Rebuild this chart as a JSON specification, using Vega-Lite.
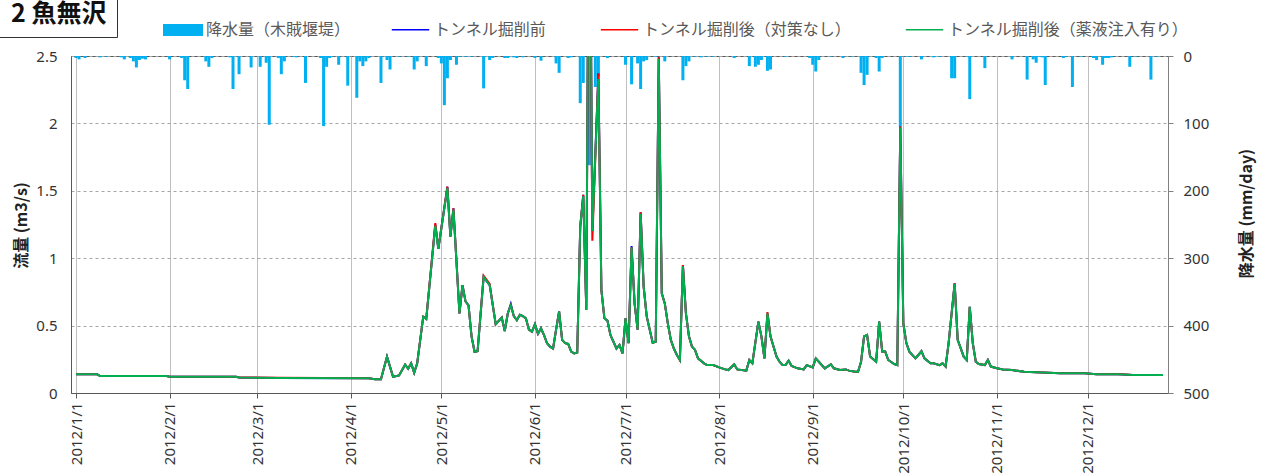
{
  "$schema": "https://vega.github.io/schema/vega-lite/v6.json",
  "width": 1097,
  "height": 337,
  "autosize": {"type": "none"},
  "padding": {"left": 71, "top": 56, "right": 95, "bottom": 82},
  "config": {
    "view": {"stroke": "#595959", "strokeWidth": 1},
    "font": "Noto Sans CJK JP",
    "axis": {"labelFont": "Noto Sans", "labelFontSize": 15, "labelColor": "#333333", "titleFont": "Noto Sans CJK JP", "titleColor": "#222222"},
    "legend": {"labelFont": "Noto Sans CJK JP", "labelFontSize": 16, "labelColor": "#595959", "padding": 0, "labelLimit": 500}
  },
  "datasets": {
    "rain": [
      {"date": "2012-01-01", "mm": 3}, {"date": "2012-01-02", "mm": 5}, {"date": "2012-01-04", "mm": 3},
      {"date": "2012-01-09", "mm": 2}, {"date": "2012-01-11", "mm": 1}, {"date": "2012-01-16", "mm": 2},
      {"date": "2012-01-17", "mm": 5}, {"date": "2012-01-19", "mm": 3}, {"date": "2012-01-20", "mm": 8},
      {"date": "2012-01-21", "mm": 17}, {"date": "2012-01-22", "mm": 6}, {"date": "2012-01-23", "mm": 4},
      {"date": "2012-01-24", "mm": 5}, {"date": "2012-02-01", "mm": 5}, {"date": "2012-02-05", "mm": 3},
      {"date": "2012-02-06", "mm": 36}, {"date": "2012-02-07", "mm": 49}, {"date": "2012-02-13", "mm": 8},
      {"date": "2012-02-14", "mm": 16}, {"date": "2012-02-15", "mm": 3}, {"date": "2012-02-21", "mm": 2},
      {"date": "2012-02-22", "mm": 49}, {"date": "2012-02-24", "mm": 27}, {"date": "2012-02-28", "mm": 17},
      {"date": "2012-03-02", "mm": 16}, {"date": "2012-03-04", "mm": 10}, {"date": "2012-03-05", "mm": 102},
      {"date": "2012-03-08", "mm": 3}, {"date": "2012-03-09", "mm": 27}, {"date": "2012-03-10", "mm": 8},
      {"date": "2012-03-13", "mm": 1}, {"date": "2012-03-14", "mm": 2}, {"date": "2012-03-17", "mm": 40},
      {"date": "2012-03-22", "mm": 3}, {"date": "2012-03-23", "mm": 104}, {"date": "2012-03-24", "mm": 16},
      {"date": "2012-03-25", "mm": 3}, {"date": "2012-03-26", "mm": 1}, {"date": "2012-03-28", "mm": 13},
      {"date": "2012-03-31", "mm": 44}, {"date": "2012-04-03", "mm": 62}, {"date": "2012-04-04", "mm": 8},
      {"date": "2012-04-05", "mm": 15}, {"date": "2012-04-06", "mm": 8}, {"date": "2012-04-07", "mm": 3},
      {"date": "2012-04-11", "mm": 40}, {"date": "2012-04-13", "mm": 6}, {"date": "2012-04-14", "mm": 20},
      {"date": "2012-04-17", "mm": 1}, {"date": "2012-04-20", "mm": 1}, {"date": "2012-04-22", "mm": 20},
      {"date": "2012-04-23", "mm": 8}, {"date": "2012-04-26", "mm": 15}, {"date": "2012-04-30", "mm": 3},
      {"date": "2012-05-01", "mm": 11}, {"date": "2012-05-02", "mm": 73}, {"date": "2012-05-03", "mm": 33},
      {"date": "2012-05-04", "mm": 6}, {"date": "2012-05-06", "mm": 13}, {"date": "2012-05-07", "mm": 1},
      {"date": "2012-05-09", "mm": 1}, {"date": "2012-05-11", "mm": 1}, {"date": "2012-05-15", "mm": 48},
      {"date": "2012-05-17", "mm": 6}, {"date": "2012-05-18", "mm": 3}, {"date": "2012-05-22", "mm": 3},
      {"date": "2012-05-23", "mm": 3}, {"date": "2012-05-25", "mm": 2}, {"date": "2012-05-26", "mm": 3},
      {"date": "2012-05-28", "mm": 2}, {"date": "2012-06-01", "mm": 3}, {"date": "2012-06-03", "mm": 7},
      {"date": "2012-06-08", "mm": 11}, {"date": "2012-06-09", "mm": 25}, {"date": "2012-06-12", "mm": 3},
      {"date": "2012-06-13", "mm": 2}, {"date": "2012-06-16", "mm": 70}, {"date": "2012-06-17", "mm": 40},
      {"date": "2012-06-19", "mm": 162}, {"date": "2012-06-21", "mm": 46}, {"date": "2012-06-22", "mm": 30},
      {"date": "2012-06-25", "mm": 3}, {"date": "2012-07-01", "mm": 13}, {"date": "2012-07-03", "mm": 42},
      {"date": "2012-07-05", "mm": 11}, {"date": "2012-07-06", "mm": 49}, {"date": "2012-07-07", "mm": 8},
      {"date": "2012-07-08", "mm": 6}, {"date": "2012-07-11", "mm": 1}, {"date": "2012-07-14", "mm": 8},
      {"date": "2012-07-20", "mm": 36}, {"date": "2012-07-21", "mm": 15}, {"date": "2012-07-22", "mm": 8},
      {"date": "2012-07-24", "mm": 1}, {"date": "2012-07-26", "mm": 2}, {"date": "2012-07-28", "mm": 1},
      {"date": "2012-07-30", "mm": 1}, {"date": "2012-08-06", "mm": 3}, {"date": "2012-08-11", "mm": 15},
      {"date": "2012-08-13", "mm": 16}, {"date": "2012-08-14", "mm": 13}, {"date": "2012-08-15", "mm": 6},
      {"date": "2012-08-17", "mm": 22}, {"date": "2012-08-18", "mm": 20}, {"date": "2012-08-23", "mm": 1},
      {"date": "2012-08-31", "mm": 3}, {"date": "2012-09-01", "mm": 13}, {"date": "2012-09-02", "mm": 23},
      {"date": "2012-09-03", "mm": 6}, {"date": "2012-09-07", "mm": 1}, {"date": "2012-09-11", "mm": 3},
      {"date": "2012-09-14", "mm": 1}, {"date": "2012-09-17", "mm": 25}, {"date": "2012-09-18", "mm": 43},
      {"date": "2012-09-19", "mm": 28}, {"date": "2012-09-22", "mm": 3}, {"date": "2012-09-23", "mm": 23},
      {"date": "2012-09-24", "mm": 3}, {"date": "2012-09-30", "mm": 105}, {"date": "2012-10-02", "mm": 1},
      {"date": "2012-10-03", "mm": 1}, {"date": "2012-10-07", "mm": 5}, {"date": "2012-10-11", "mm": 2},
      {"date": "2012-10-13", "mm": 1}, {"date": "2012-10-17", "mm": 33}, {"date": "2012-10-18", "mm": 33},
      {"date": "2012-10-22", "mm": 1}, {"date": "2012-10-23", "mm": 64}, {"date": "2012-10-28", "mm": 18},
      {"date": "2012-11-06", "mm": 5}, {"date": "2012-11-11", "mm": 35}, {"date": "2012-11-13", "mm": 5},
      {"date": "2012-11-14", "mm": 10}, {"date": "2012-11-15", "mm": 1}, {"date": "2012-11-16", "mm": 2},
      {"date": "2012-11-17", "mm": 43}, {"date": "2012-11-23", "mm": 3}, {"date": "2012-11-24", "mm": 1},
      {"date": "2012-11-26", "mm": 46}, {"date": "2012-11-29", "mm": 1}, {"date": "2012-12-03", "mm": 3},
      {"date": "2012-12-04", "mm": 6}, {"date": "2012-12-06", "mm": 13}, {"date": "2012-12-07", "mm": 3},
      {"date": "2012-12-08", "mm": 3}, {"date": "2012-12-09", "mm": 2}, {"date": "2012-12-15", "mm": 16},
      {"date": "2012-12-17", "mm": 1}, {"date": "2012-12-22", "mm": 35}, {"date": "2012-12-24", "mm": 1}
    ],
    "flow": [
      {"date": "2012-01-01", "b": 0.139, "r": 0.139, "g": 0.139},
      {"date": "2012-01-08", "b": 0.139, "r": 0.139, "g": 0.139},
      {"date": "2012-01-09", "b": 0.126, "r": 0.126, "g": 0.126},
      {"date": "2012-01-31", "b": 0.126, "r": 0.126, "g": 0.126},
      {"date": "2012-02-01", "b": 0.121, "r": 0.121, "g": 0.121},
      {"date": "2012-02-23", "b": 0.121, "r": 0.121, "g": 0.121},
      {"date": "2012-02-24", "b": 0.115, "r": 0.115, "g": 0.115},
      {"date": "2012-03-08", "b": 0.112, "r": 0.113, "g": 0.112},
      {"date": "2012-04-07", "b": 0.109, "r": 0.109, "g": 0.109},
      {"date": "2012-04-09", "b": 0.102, "r": 0.102, "g": 0.102},
      {"date": "2012-04-11", "b": 0.102, "r": 0.102, "g": 0.102},
      {"date": "2012-04-13", "b": 0.27, "r": 0.27, "g": 0.27},
      {"date": "2012-04-15", "b": 0.12, "r": 0.12, "g": 0.12},
      {"date": "2012-04-17", "b": 0.13, "r": 0.13, "g": 0.13},
      {"date": "2012-04-19", "b": 0.21, "r": 0.21, "g": 0.21},
      {"date": "2012-04-20", "b": 0.18, "r": 0.18, "g": 0.18},
      {"date": "2012-04-21", "b": 0.22, "r": 0.22, "g": 0.22},
      {"date": "2012-04-22", "b": 0.15, "r": 0.15, "g": 0.15},
      {"date": "2012-04-23", "b": 0.22, "r": 0.22, "g": 0.22},
      {"date": "2012-04-25", "b": 0.566, "r": 0.566, "g": 0.566},
      {"date": "2012-04-26", "b": 0.55, "r": 0.55, "g": 0.55},
      {"date": "2012-04-29", "b": 1.25, "r": 1.26, "g": 1.24},
      {"date": "2012-04-30", "b": 1.07, "r": 1.07, "g": 1.07},
      {"date": "2012-05-03", "b": 1.53, "r": 1.53, "g": 1.52},
      {"date": "2012-05-04", "b": 1.16, "r": 1.16, "g": 1.16},
      {"date": "2012-05-05", "b": 1.37, "r": 1.37, "g": 1.36},
      {"date": "2012-05-07", "b": 0.59, "r": 0.59, "g": 0.59},
      {"date": "2012-05-08", "b": 0.8, "r": 0.8, "g": 0.8},
      {"date": "2012-05-09", "b": 0.68, "r": 0.68, "g": 0.68},
      {"date": "2012-05-10", "b": 0.65, "r": 0.65, "g": 0.65},
      {"date": "2012-05-11", "b": 0.42, "r": 0.42, "g": 0.42},
      {"date": "2012-05-12", "b": 0.306, "r": 0.306, "g": 0.306},
      {"date": "2012-05-13", "b": 0.31, "r": 0.31, "g": 0.31},
      {"date": "2012-05-15", "b": 0.86, "r": 0.87, "g": 0.86},
      {"date": "2012-05-17", "b": 0.8, "r": 0.81, "g": 0.8},
      {"date": "2012-05-19", "b": 0.51, "r": 0.51, "g": 0.51},
      {"date": "2012-05-21", "b": 0.56, "r": 0.56, "g": 0.56},
      {"date": "2012-05-22", "b": 0.46, "r": 0.46, "g": 0.46},
      {"date": "2012-05-23", "b": 0.59, "r": 0.59, "g": 0.59},
      {"date": "2012-05-24", "b": 0.66, "r": 0.65, "g": 0.65},
      {"date": "2012-05-25", "b": 0.57, "r": 0.57, "g": 0.57},
      {"date": "2012-05-26", "b": 0.54, "r": 0.54, "g": 0.54},
      {"date": "2012-05-27", "b": 0.58, "r": 0.58, "g": 0.58},
      {"date": "2012-05-28", "b": 0.57, "r": 0.57, "g": 0.57},
      {"date": "2012-05-29", "b": 0.554, "r": 0.554, "g": 0.554},
      {"date": "2012-05-30", "b": 0.47, "r": 0.47, "g": 0.47},
      {"date": "2012-05-31", "b": 0.455, "r": 0.455, "g": 0.455},
      {"date": "2012-06-01", "b": 0.51, "r": 0.51, "g": 0.51},
      {"date": "2012-06-02", "b": 0.44, "r": 0.44, "g": 0.44},
      {"date": "2012-06-03", "b": 0.48, "r": 0.48, "g": 0.48},
      {"date": "2012-06-04", "b": 0.43, "r": 0.43, "g": 0.43},
      {"date": "2012-06-05", "b": 0.369, "r": 0.369, "g": 0.369},
      {"date": "2012-06-06", "b": 0.344, "r": 0.344, "g": 0.344},
      {"date": "2012-06-07", "b": 0.33, "r": 0.33, "g": 0.33},
      {"date": "2012-06-08", "b": 0.47, "r": 0.47, "g": 0.47},
      {"date": "2012-06-09", "b": 0.605, "r": 0.605, "g": 0.605},
      {"date": "2012-06-10", "b": 0.394, "r": 0.394, "g": 0.394},
      {"date": "2012-06-11", "b": 0.37, "r": 0.37, "g": 0.37},
      {"date": "2012-06-12", "b": 0.364, "r": 0.364, "g": 0.364},
      {"date": "2012-06-13", "b": 0.307, "r": 0.307, "g": 0.307},
      {"date": "2012-06-14", "b": 0.294, "r": 0.294, "g": 0.294},
      {"date": "2012-06-15", "b": 0.3, "r": 0.3, "g": 0.3},
      {"date": "2012-06-16", "b": 1.234, "r": 1.234, "g": 1.234},
      {"date": "2012-06-17", "b": 1.47, "r": 1.47, "g": 1.46},
      {"date": "2012-06-18", "b": 0.616, "r": 0.616, "g": 0.616},
      {"date": "2012-06-19", "b": 4.5, "r": 4.5, "g": 4.5},
      {"date": "2012-06-20", "b": 1.2, "r": 1.13, "g": 1.2},
      {"date": "2012-06-22", "b": 2.37, "r": 2.37, "g": 2.33},
      {"date": "2012-06-23", "b": 0.765, "r": 0.765, "g": 0.765},
      {"date": "2012-06-24", "b": 0.554, "r": 0.554, "g": 0.554},
      {"date": "2012-06-25", "b": 0.537, "r": 0.537, "g": 0.537},
      {"date": "2012-06-26", "b": 0.43, "r": 0.43, "g": 0.43},
      {"date": "2012-06-27", "b": 0.38, "r": 0.38, "g": 0.38},
      {"date": "2012-06-28", "b": 0.33, "r": 0.33, "g": 0.33},
      {"date": "2012-06-29", "b": 0.357, "r": 0.357, "g": 0.357},
      {"date": "2012-06-30", "b": 0.294, "r": 0.294, "g": 0.294},
      {"date": "2012-07-01", "b": 0.554, "r": 0.554, "g": 0.554},
      {"date": "2012-07-02", "b": 0.37, "r": 0.37, "g": 0.37},
      {"date": "2012-07-03", "b": 1.09, "r": 1.08, "g": 1.08},
      {"date": "2012-07-04", "b": 0.665, "r": 0.665, "g": 0.665},
      {"date": "2012-07-05", "b": 0.47, "r": 0.47, "g": 0.47},
      {"date": "2012-07-06", "b": 1.34, "r": 1.34, "g": 1.33},
      {"date": "2012-07-07", "b": 0.789, "r": 0.789, "g": 0.789},
      {"date": "2012-07-08", "b": 0.57, "r": 0.57, "g": 0.57},
      {"date": "2012-07-09", "b": 0.47, "r": 0.47, "g": 0.47},
      {"date": "2012-07-10", "b": 0.373, "r": 0.373, "g": 0.373},
      {"date": "2012-07-11", "b": 0.38, "r": 0.38, "g": 0.38},
      {"date": "2012-07-12", "b": 2.49, "r": 2.49, "g": 2.48},
      {"date": "2012-07-13", "b": 0.739, "r": 0.739, "g": 0.739},
      {"date": "2012-07-14", "b": 0.665, "r": 0.665, "g": 0.665},
      {"date": "2012-07-15", "b": 0.517, "r": 0.517, "g": 0.517},
      {"date": "2012-07-16", "b": 0.394, "r": 0.394, "g": 0.394},
      {"date": "2012-07-17", "b": 0.33, "r": 0.33, "g": 0.33},
      {"date": "2012-07-18", "b": 0.282, "r": 0.282, "g": 0.282},
      {"date": "2012-07-19", "b": 0.245, "r": 0.245, "g": 0.245},
      {"date": "2012-07-20", "b": 0.95, "r": 0.95, "g": 0.94},
      {"date": "2012-07-21", "b": 0.59, "r": 0.59, "g": 0.59},
      {"date": "2012-07-22", "b": 0.42, "r": 0.42, "g": 0.42},
      {"date": "2012-07-23", "b": 0.344, "r": 0.344, "g": 0.344},
      {"date": "2012-07-24", "b": 0.32, "r": 0.32, "g": 0.32},
      {"date": "2012-07-25", "b": 0.257, "r": 0.257, "g": 0.257},
      {"date": "2012-07-27", "b": 0.22, "r": 0.22, "g": 0.22},
      {"date": "2012-07-28", "b": 0.207, "r": 0.207, "g": 0.207},
      {"date": "2012-07-30", "b": 0.207, "r": 0.207, "g": 0.207},
      {"date": "2012-08-01", "b": 0.19, "r": 0.19, "g": 0.19},
      {"date": "2012-08-03", "b": 0.175, "r": 0.175, "g": 0.175},
      {"date": "2012-08-04", "b": 0.17, "r": 0.17, "g": 0.17},
      {"date": "2012-08-06", "b": 0.212, "r": 0.212, "g": 0.212},
      {"date": "2012-08-07", "b": 0.175, "r": 0.175, "g": 0.175},
      {"date": "2012-08-10", "b": 0.166, "r": 0.166, "g": 0.166},
      {"date": "2012-08-11", "b": 0.245, "r": 0.245, "g": 0.245},
      {"date": "2012-08-12", "b": 0.22, "r": 0.22, "g": 0.22},
      {"date": "2012-08-14", "b": 0.529, "r": 0.529, "g": 0.529},
      {"date": "2012-08-15", "b": 0.42, "r": 0.42, "g": 0.42},
      {"date": "2012-08-16", "b": 0.257, "r": 0.257, "g": 0.257},
      {"date": "2012-08-17", "b": 0.59, "r": 0.6, "g": 0.59},
      {"date": "2012-08-18", "b": 0.42, "r": 0.42, "g": 0.42},
      {"date": "2012-08-20", "b": 0.27, "r": 0.27, "g": 0.27},
      {"date": "2012-08-21", "b": 0.232, "r": 0.232, "g": 0.232},
      {"date": "2012-08-22", "b": 0.207, "r": 0.207, "g": 0.207},
      {"date": "2012-08-23", "b": 0.207, "r": 0.207, "g": 0.207},
      {"date": "2012-08-24", "b": 0.24, "r": 0.24, "g": 0.24},
      {"date": "2012-08-25", "b": 0.2, "r": 0.2, "g": 0.2},
      {"date": "2012-08-27", "b": 0.183, "r": 0.183, "g": 0.183},
      {"date": "2012-08-29", "b": 0.175, "r": 0.175, "g": 0.175},
      {"date": "2012-08-30", "b": 0.207, "r": 0.207, "g": 0.207},
      {"date": "2012-09-01", "b": 0.19, "r": 0.19, "g": 0.19},
      {"date": "2012-09-02", "b": 0.257, "r": 0.257, "g": 0.257},
      {"date": "2012-09-03", "b": 0.232, "r": 0.232, "g": 0.232},
      {"date": "2012-09-05", "b": 0.183, "r": 0.183, "g": 0.183},
      {"date": "2012-09-07", "b": 0.212, "r": 0.212, "g": 0.212},
      {"date": "2012-09-08", "b": 0.183, "r": 0.183, "g": 0.183},
      {"date": "2012-09-10", "b": 0.17, "r": 0.17, "g": 0.17},
      {"date": "2012-09-12", "b": 0.175, "r": 0.175, "g": 0.175},
      {"date": "2012-09-13", "b": 0.166, "r": 0.166, "g": 0.166},
      {"date": "2012-09-15", "b": 0.158, "r": 0.158, "g": 0.158},
      {"date": "2012-09-16", "b": 0.158, "r": 0.158, "g": 0.158},
      {"date": "2012-09-17", "b": 0.232, "r": 0.232, "g": 0.232},
      {"date": "2012-09-18", "b": 0.42, "r": 0.42, "g": 0.42},
      {"date": "2012-09-19", "b": 0.43, "r": 0.43, "g": 0.43},
      {"date": "2012-09-20", "b": 0.27, "r": 0.27, "g": 0.27},
      {"date": "2012-09-22", "b": 0.232, "r": 0.232, "g": 0.232},
      {"date": "2012-09-23", "b": 0.529, "r": 0.529, "g": 0.529},
      {"date": "2012-09-24", "b": 0.307, "r": 0.307, "g": 0.307},
      {"date": "2012-09-25", "b": 0.307, "r": 0.307, "g": 0.307},
      {"date": "2012-09-26", "b": 0.245, "r": 0.245, "g": 0.245},
      {"date": "2012-09-28", "b": 0.215, "r": 0.215, "g": 0.215},
      {"date": "2012-09-29", "b": 0.207, "r": 0.207, "g": 0.207},
      {"date": "2012-09-30", "b": 1.976, "r": 1.976, "g": 1.97},
      {"date": "2012-10-01", "b": 0.517, "r": 0.517, "g": 0.517},
      {"date": "2012-10-02", "b": 0.37, "r": 0.37, "g": 0.37},
      {"date": "2012-10-03", "b": 0.307, "r": 0.307, "g": 0.307},
      {"date": "2012-10-05", "b": 0.257, "r": 0.257, "g": 0.257},
      {"date": "2012-10-06", "b": 0.282, "r": 0.282, "g": 0.282},
      {"date": "2012-10-07", "b": 0.31, "r": 0.31, "g": 0.31},
      {"date": "2012-10-08", "b": 0.257, "r": 0.257, "g": 0.257},
      {"date": "2012-10-10", "b": 0.22, "r": 0.22, "g": 0.22},
      {"date": "2012-10-11", "b": 0.22, "r": 0.22, "g": 0.22},
      {"date": "2012-10-13", "b": 0.207, "r": 0.207, "g": 0.207},
      {"date": "2012-10-14", "b": 0.22, "r": 0.22, "g": 0.22},
      {"date": "2012-10-15", "b": 0.196, "r": 0.196, "g": 0.196},
      {"date": "2012-10-16", "b": 0.37, "r": 0.37, "g": 0.37},
      {"date": "2012-10-18", "b": 0.814, "r": 0.814, "g": 0.81},
      {"date": "2012-10-19", "b": 0.394, "r": 0.394, "g": 0.394},
      {"date": "2012-10-21", "b": 0.27, "r": 0.27, "g": 0.27},
      {"date": "2012-10-22", "b": 0.245, "r": 0.245, "g": 0.245},
      {"date": "2012-10-23", "b": 0.64, "r": 0.64, "g": 0.64},
      {"date": "2012-10-24", "b": 0.37, "r": 0.37, "g": 0.37},
      {"date": "2012-10-25", "b": 0.232, "r": 0.232, "g": 0.232},
      {"date": "2012-10-26", "b": 0.215, "r": 0.215, "g": 0.215},
      {"date": "2012-10-28", "b": 0.207, "r": 0.207, "g": 0.207},
      {"date": "2012-10-29", "b": 0.245, "r": 0.245, "g": 0.245},
      {"date": "2012-10-30", "b": 0.196, "r": 0.196, "g": 0.196},
      {"date": "2012-11-01", "b": 0.183, "r": 0.183, "g": 0.183},
      {"date": "2012-11-03", "b": 0.175, "r": 0.175, "g": 0.175},
      {"date": "2012-11-06", "b": 0.17, "r": 0.17, "g": 0.17},
      {"date": "2012-11-10", "b": 0.158, "r": 0.158, "g": 0.158},
      {"date": "2012-11-16", "b": 0.153, "r": 0.153, "g": 0.153},
      {"date": "2012-11-22", "b": 0.146, "r": 0.146, "g": 0.146},
      {"date": "2012-11-30", "b": 0.146, "r": 0.146, "g": 0.146},
      {"date": "2012-12-04", "b": 0.14, "r": 0.14, "g": 0.14},
      {"date": "2012-12-11", "b": 0.14, "r": 0.141, "g": 0.14},
      {"date": "2012-12-16", "b": 0.134, "r": 0.134, "g": 0.134},
      {"date": "2012-12-26", "b": 0.134, "r": 0.134, "g": 0.134}
    ]
  },
  "encoding": {
    "x": {
      "field": "date",
      "type": "temporal",
      "scale": {"type": "utc", "domain": [{"year": 2012, "month": 1, "date": 1, "utc": true}, {"year": 2012, "month": 12, "date": 26, "utc": true}]},
      "axis": {
        "orient": "bottom",
        "title": null,
        "format": "%Y/%-m/%-d",
        "tickCount": {"interval": "month", "step": 1},
        "labelAngle": 270,
        "labelFlush": false,
        "labelOverlap": false,
        "labelPadding": 4,
        "tickSize": 5,
        "tickColor": "#595959",
        "domainColor": "#595959",
        "grid": true,
        "gridColor": "#BFBFBF",
        "gridWidth": 1
      }
    }
  },
  "layer": [
    {
      "data": {"name": "rain"},
      "mark": {"type": "bar", "width": 3, "color": "#00B0F0"},
      "encoding": {
        "y": {
          "field": "mm",
          "type": "quantitative",
          "scale": {"domain": [0, 500], "reverse": true, "nice": false},
          "axis": {
            "orient": "right",
            "values": [0, 100, 200, 300, 400, 500],
            "grid": false,
            "tickSize": 5,
            "tickColor": "#808080",
            "domainColor": "#808080",
            "labelPadding": 10,
            "title": "降水量 (mm/day)",
            "titleFontSize": 16,
            "titleFontWeight": "bold",
            "titleAngle": 270,
            "titleAlign": "center",
            "titleBaseline": "middle",
            "titleX": 78,
            "titleY": 157
          }
        },
        "color": {
          "datum": "降水量（木賊堰堤）",
          "type": "nominal",
          "scale": {"domain": ["降水量（木賊堰堤）"], "range": ["#00B0F0"]},
          "legend": {
            "title": null,
            "orient": "none",
            "legendX": 92,
            "legendY": -46,
            "symbolType": "M-1,-0.3H1V0.3H-1Z",
            "symbolSize": 1600,
            "symbolStrokeWidth": 0,
            "labelOffset": 3
          }
        },
        "opacity": {
          "datum": "2 魚無沢",
          "type": "nominal",
          "scale": {"domain": ["2 魚無沢"], "range": [1]},
          "legend": {
            "title": null,
            "orient": "none",
            "legendX": -95,
            "legendY": -65,
            "padding": 10,
            "strokeColor": "#333333",
            "symbolSize": 0,
            "symbolOpacity": 0,
            "symbolStrokeWidth": 0,
            "labelOffset": 0,
            "labelFontSize": 25,
            "labelFontWeight": "bold",
            "labelColor": "#111111"
          }
        }
      }
    },
    {
      "data": {"name": "flow"},
      "transform": [{"fold": ["b", "r", "g"], "as": ["series", "q"]}],
      "encoding": {
        "y": {
          "field": "q",
          "type": "quantitative",
          "scale": {"domain": [0, 2.5], "nice": false},
          "axis": {
            "orient": "left",
            "values": [0, 0.5, 1, 1.5, 2, 2.5],
            "format": "~g",
            "grid": true,
            "gridDash": [3, 3],
            "gridColor": "#A6A6A6",
            "tickSize": 0,
            "labelPadding": 14,
            "domainColor": "#595959",
            "title": "流量 (m3/s)",
            "titleFontSize": 16,
            "titleFontWeight": "bold",
            "titleAngle": 270,
            "titleAlign": "center",
            "titleBaseline": "middle",
            "titleX": -50,
            "titleY": 169
          }
        },
        "color": {
          "field": "series",
          "type": "nominal",
          "scale": {"domain": ["b", "r", "g"], "range": ["#0000FF", "#FF0000", "#00B050"]},
          "legend": {
            "title": null,
            "orient": "none",
            "direction": "horizontal",
            "legendX": 320,
            "legendY": -46,
            "symbolType": "stroke",
            "symbolSize": 1400,
            "symbolStrokeWidth": 1.5,
            "labelOffset": 4,
            "columnPadding": 50,
            "labelLimit": 500,
            "labelExpr": "datum.label == 'b' ? 'トンネル掘削前' : datum.label == 'r' ? 'トンネル掘削後（対策なし）' : 'トンネル掘削後（薬液注入有り）'"
          }
        }
      },
      "layer": [
        {"transform": [{"filter": "datum.series === 'b'"}], "mark": {"type": "line", "strokeWidth": 2, "clip": true}},
        {"transform": [{"filter": "datum.series === 'r'"}], "mark": {"type": "line", "strokeWidth": 2, "clip": true}},
        {"transform": [{"filter": "datum.series === 'g'"}], "mark": {"type": "line", "strokeWidth": 2, "clip": true}}
      ]
    }
  ],
  "resolve": {"scale": {"y": "independent", "color": "independent"}, "axis": {"y": "independent"}}
}
